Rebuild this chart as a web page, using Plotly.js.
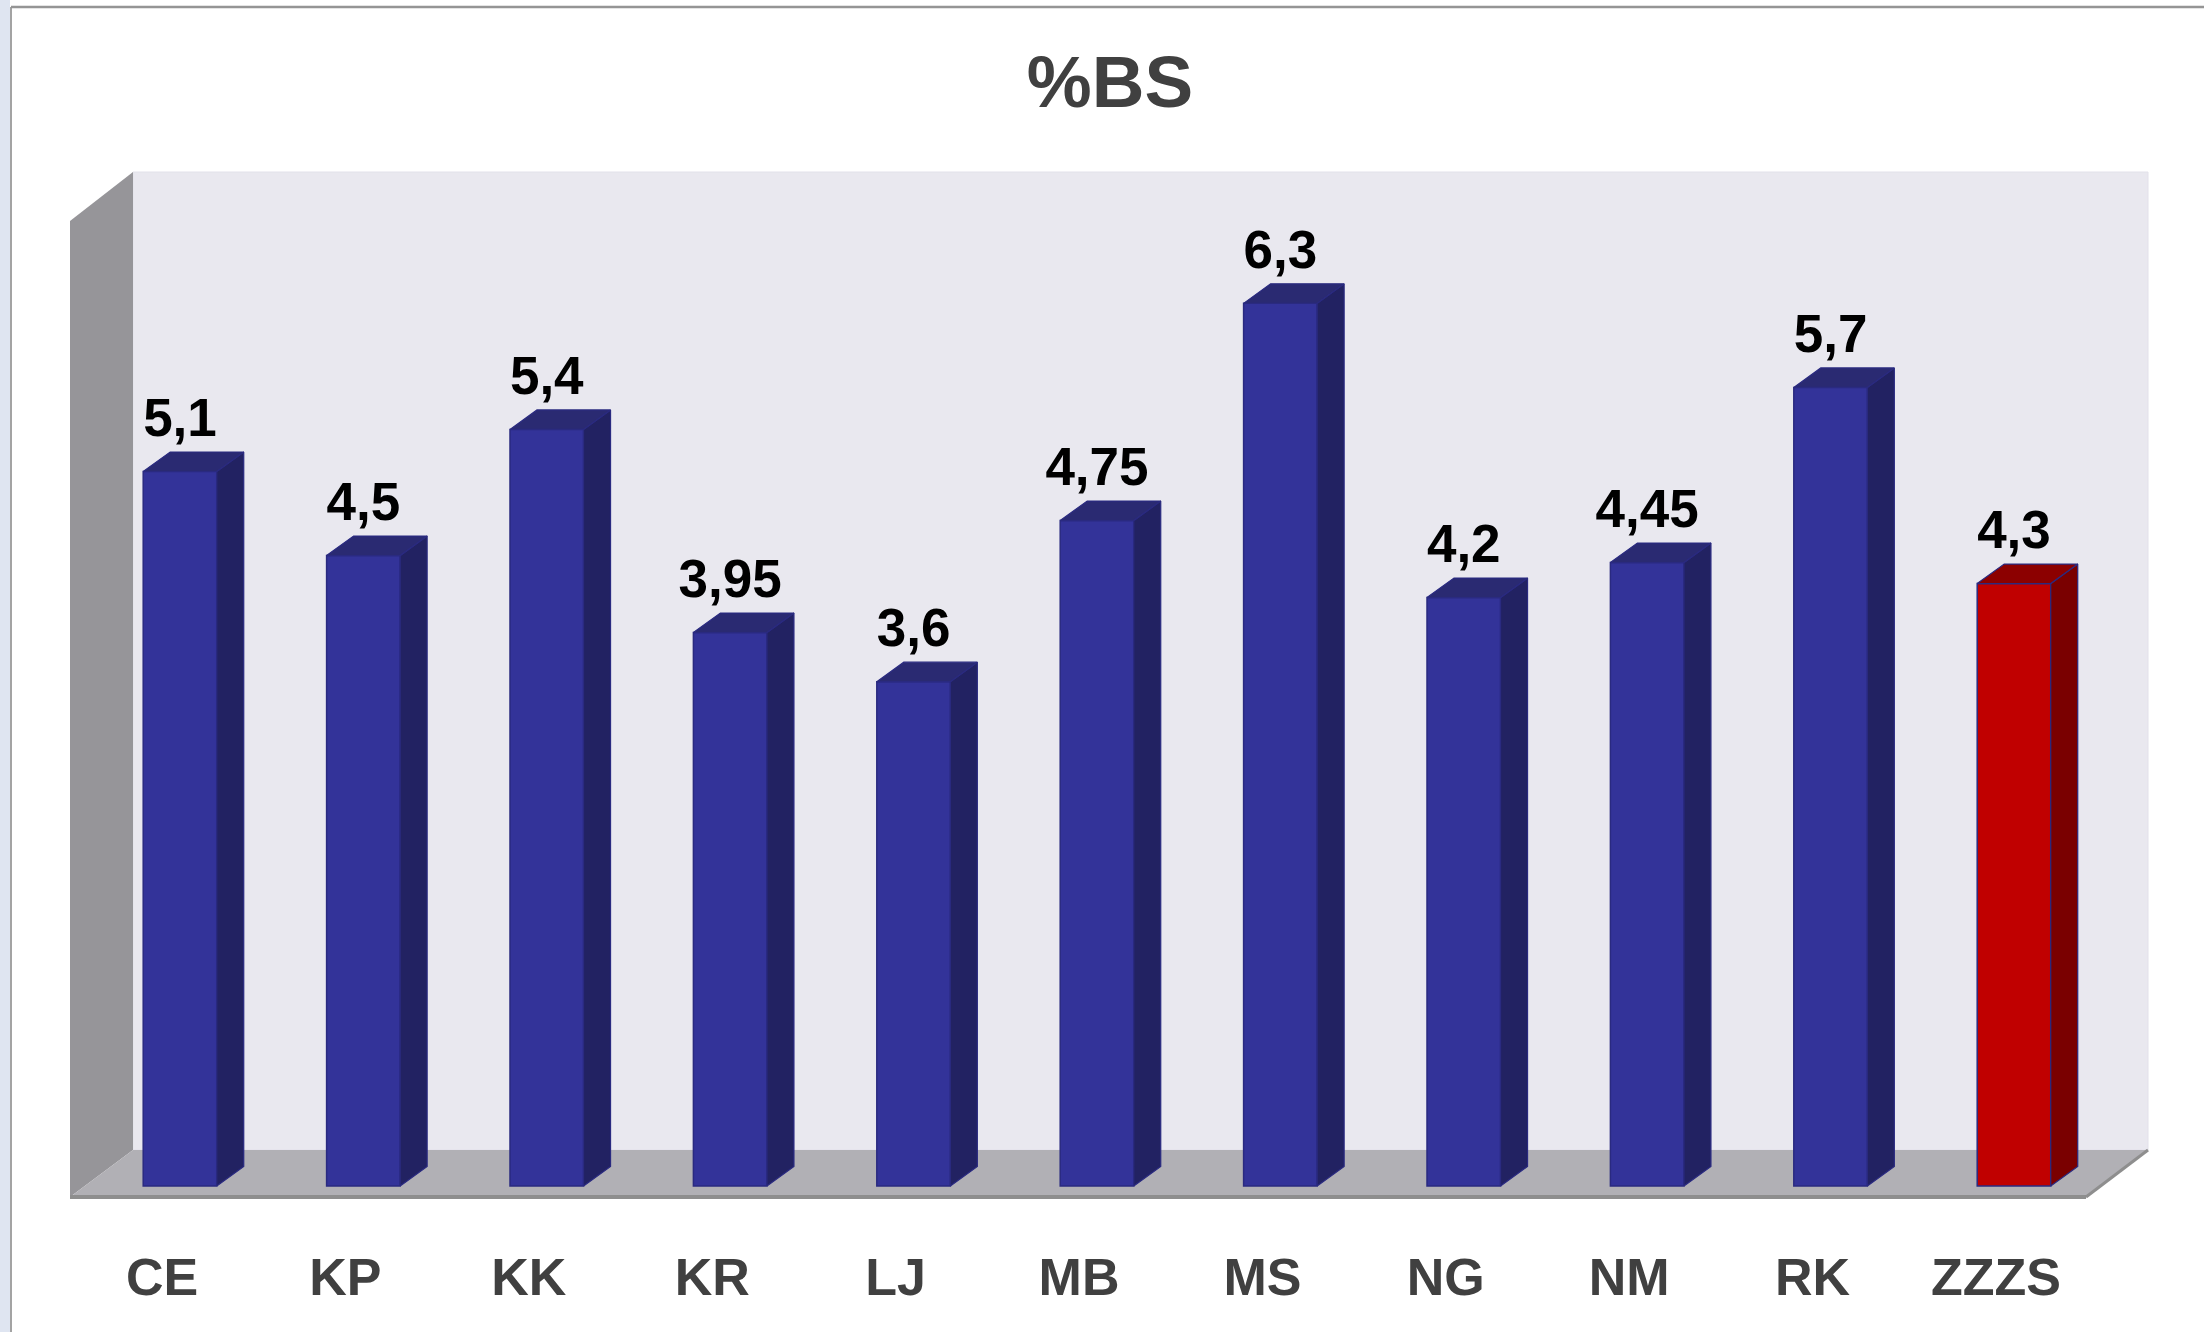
<!DOCTYPE html>
<html>
<head>
<meta charset="utf-8">
<script src="https://cdn.plot.ly/plotly-3.0.1.min.js"></script>
<style>
  html, body { margin: 0; padding: 0; background: #ffffff; }
  #chart { width: 2204px; height: 1332px; }
</style>
</head>
<body>
<div id="chart"></div>
<script>
// ---- data ----
const categories = ['CE', 'KP', 'KK', 'KR', 'LJ', 'MB', 'MS', 'NG', 'NM', 'RK', 'ZZZS'];
const values = [5.1, 4.5, 5.4, 3.95, 3.6, 4.75, 6.3, 4.2, 4.45, 5.7, 4.3];
const highlightCategory = 'ZZZS';
const titleText = '%BS';

// ---- layout constants (pixels) ----
const W = 2204, H = 1332;
const marginB = 135;
const plotH = H - marginB;           // plot area height
const pxPerCat = 183.4;              // horizontal spacing between categories
const tick0Px = 162;                 // pixel x of first tick
const zeroPx = 1186;                 // pixel y of value 0
const pxPerUnit = 140.1;             // pixel per value unit
const barW = 0.401;                  // bar width in category units
const barShift = 0.098;              // front face centre shift from tick
const depthX = 27 / pxPerCat;        // 3D depth offset (x, data units)
const depthY = 19.5 / pxPerUnit;     // 3D depth offset (y, data units)
const labelLift = 49 / pxPerUnit;    // data label centre above bar front top

const xRange = [-tick0Px / pxPerCat, (W - tick0Px) / pxPerCat];
const yRange = [(zeroPx - plotH) / pxPerUnit, zeroPx / pxPerUnit];

const FONT = 'Liberation Sans Narrow, Liberation Sans, Arial, sans-serif';

const idx = categories.map((c, i) => i);
const isHi = categories.map(c => c === highlightCategory);
const frontCol = isHi.map(h => h ? '#c00000' : '#333399');
const sideCol = isHi.map(h => h ? '#7a0000' : '#222262');
const topCol = isHi.map(h => h ? '#8c0000' : '#2a2a72');
const edgeCol = '#2a2a80';
const labels = values.map(v => String(v).replace('.', ','));

const barOffset = barShift - barW / 2;

const traces = [];
// side and top faces
categories.forEach((c, i) => {
  const v = values[i];
  const xl = i + barOffset;
  const xr = xl + barW;
  traces.push({
    type: 'scatter', mode: 'lines', fill: 'toself',
    x: [xr, xr, xr + depthX, xr + depthX, xr],
    y: [0, v, v + depthY, depthY, 0],
    fillcolor: sideCol[i], line: { color: edgeCol, width: 1.2 },
    hoverinfo: 'skip', showlegend: false
  });
  traces.push({
    type: 'scatter', mode: 'lines', fill: 'toself',
    x: [xl, xl + depthX, xr + depthX, xr, xl],
    y: [v, v + depthY, v + depthY, v, v],
    fillcolor: topCol[i], line: { color: edgeCol, width: 1.2 },
    hoverinfo: 'skip', showlegend: false
  });
});
// front faces
traces.push({
  type: 'bar', x: idx, y: values, width: barW, offset: barOffset,
  marker: { color: frontCol, line: { color: edgeCol, width: 1.5 } },
  hoverinfo: 'x+y', showlegend: false
});
// value labels
traces.push({
  type: 'scatter', mode: 'text',
  x: idx.map(i => i + barShift),
  y: values.map(v => v + labelLift),
  text: labels, textposition: 'middle center',
  textfont: { family: FONT, size: 53, color: '#000000', weight: 'bold' },
  cliponaxis: false, hoverinfo: 'skip', showlegend: false
});

// helpers for background shapes (pixel -> paper)
const px = x => x / W;
const py = y => (plotH - y) / plotH;
const path = pts => pts.map((p, k) => (k ? 'L' : 'M') + px(p[0]) + ',' + py(p[1])).join(' ') + ' Z';

const shapes = [
  // outer page strip and frame
  { type: 'rect', xref: 'paper', yref: 'paper', x0: 0, x1: px(10), y0: py(H), y1: py(0),
    fillcolor: '#dfe5f1', line: { width: 0 }, layer: 'below' },
  { type: 'line', xref: 'paper', yref: 'paper', x0: px(11), x1: px(11), y0: py(H), y1: py(7),
    line: { color: '#a3a3a3', width: 2 }, layer: 'below' },
  { type: 'line', xref: 'paper', yref: 'paper', x0: px(11), x1: px(W), y0: py(7), y1: py(7),
    line: { color: '#959595', width: 2.5 }, layer: 'below' },
  // back wall
  { type: 'rect', xref: 'paper', yref: 'paper', x0: px(133), x1: px(2148), y0: py(1150), y1: py(172),
    fillcolor: '#e9e8ef', line: { color: '#e2e1ea', width: 1 }, layer: 'below' },
  // left wall
  { type: 'path', xref: 'paper', yref: 'paper',
    path: path([[70, 221], [133, 172], [133, 1150], [70, 1197]]),
    fillcolor: '#969599', line: { width: 0 }, layer: 'below' },
  // floor
  { type: 'path', xref: 'paper', yref: 'paper',
    path: path([[70, 1197], [133, 1150], [2148, 1150], [2086, 1197]]),
    fillcolor: '#b1b0b5', line: { width: 0 }, layer: 'below' },
  { type: 'line', xref: 'paper', yref: 'paper', x0: px(70), x1: px(2086), y0: py(1197), y1: py(1197),
    line: { color: '#8e8e8e', width: 4 }, layer: 'below' },
  { type: 'line', xref: 'paper', yref: 'paper', x0: px(2086), x1: px(2148), y0: py(1197), y1: py(1150),
    line: { color: '#8e8e8e', width: 3 }, layer: 'below' }
];

const layout = {
  width: W, height: H,
  margin: { l: 0, r: 0, t: 0, b: marginB, pad: 0 },
  paper_bgcolor: '#ffffff', plot_bgcolor: 'rgba(0,0,0,0)',
  title: {
    text: titleText, x: 1110 / W, xanchor: 'center', xref: 'container',
    y: 1 - 81 / H, yanchor: 'middle', yref: 'container',
    font: { family: FONT, size: 73, color: '#404040', weight: 'bold' }
  },
  xaxis: {
    range: xRange, tickmode: 'array', tickvals: idx, ticktext: categories,
    showgrid: false, zeroline: false, showline: false,
    ticks: 'outside', ticklen: 35, tickcolor: 'rgba(0,0,0,0)',
    tickfont: { family: FONT, size: 52, color: '#404040', weight: 'bold' },
    fixedrange: true
  },
  yaxis: {
    range: yRange, visible: false, showgrid: false, zeroline: false, fixedrange: true
  },
  shapes: shapes,
  showlegend: false
};

Plotly.newPlot('chart', traces, layout, { displayModeBar: false, staticPlot: true });
</script>
</body>
</html>
